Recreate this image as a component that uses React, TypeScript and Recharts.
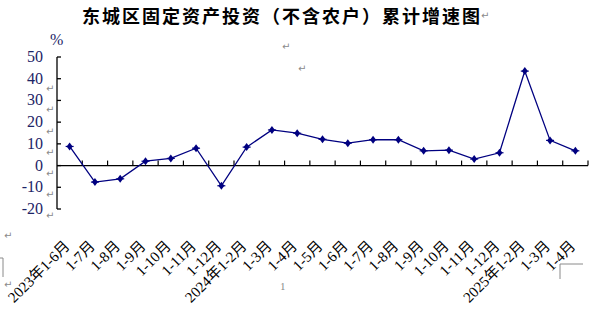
import React from "react";
import {
  LineChart,
  Line,
  XAxis,
  YAxis,
  ReferenceLine,
} from "recharts";

const categories = [
  "2023年1-6月", "1-7月", "1-8月", "1-9月", "1-10月", "1-11月", "1-12月",
  "2024年1-2月", "1-3月", "1-4月", "1-5月", "1-6月", "1-7月", "1-8月",
  "1-9月", "1-10月", "1-11月", "1-12月", "2025年1-2月", "1-3月", "1-4月",
];
const growth = [
  8.8, -7.6, -6.1, 2.0, 3.3, 8.0, -9.3, 8.5, 16.4, 14.9, 12.1, 10.3, 11.9,
  11.9, 6.8, 7.1, 3.0, 5.9, 43.5, 11.6, 6.8,
];
const yTicks = [-20, -10, 0, 10, 20, 30, 40, 50];
const title = "东城区固定资产投资（不含农户）累计增速图";

const data = categories.map((label, i) => ({ pos: i + 0.5, label, value: growth[i] }));
const centerTicks = categories.map((_, i) => i + 0.5);
const boundaries = categories.map((_, i) => i + 1);

const NAVY = "#000080";
const LABEL_BLUE = "#1c2466";
const GREY = "#8a8a8a";

const XTick = (props: any) => {
  const { x, y, payload } = props;
  const idx = Math.round(payload.value - 0.5);
  const ax = x + 1;
  const ay = y + 38;
  return (
    <text
      x={ax}
      y={ay}
      transform={`rotate(-45 ${ax} ${ay})`}
      textAnchor="end"
      fontSize={15}
      fontFamily="'Liberation Serif', 'Noto Sans CJK SC', serif"
      fill="#000"
    >
      {categories[idx]}
    </text>
  );
};

const YTick = (props: any) => {
  const { x, y, payload } = props;
  return (
    <g>
      <line x1={x} x2={x + 4} y1={y} y2={y} stroke="#000" strokeWidth={1.3} />
      <text
        x={x - 14}
        y={y + 5}
        textAnchor="end"
        fontSize={16}
        fontFamily="'Liberation Serif', serif"
        fill={LABEL_BLUE}
      >
        {payload.value}
      </text>
    </g>
  );
};

const Marker = (props: any) => {
  const { cx, cy } = props;
  if (cx == null || cy == null) return null;
  return (
    <g>
      <path
        d={`M${cx},${cy - 4} L${cx + 3},${cy} L${cx},${cy + 4} L${cx - 3},${cy} Z`}
        fill={NAVY}
      />
      <line x1={cx - 4} x2={cx + 4} y1={cy} y2={cy} stroke={NAVY} strokeWidth={1.2} />
    </g>
  );
};

// little Word formatting marks from the source screenshot
const marks = [
  [481, 19], [282, 50], [298, 72], [46, 92], [46, 113], [46, 135],
  [46, 156], [46, 177], [46, 198], [46, 219], [4, 239], [4, 288],
];

export default function App() {
  return (
    <div style={{ position: "absolute", left: 0, top: 0, width: 592, height: 311, background: "#fff" }}>
      <LineChart
        width={592}
        height={311}
        data={data}
        margin={{ top: 57, right: 4, bottom: 22, left: 0 }}
      >
        <XAxis
          dataKey="pos"
          type="number"
          domain={[0, categories.length]}
          ticks={centerTicks}
          interval={0}
          axisLine={false}
          tickLine={false}
          tickSize={0}
          tickMargin={0}
          height={80}
          tick={<XTick />}
        />
        <YAxis
          type="number"
          domain={[-20, 50]}
          ticks={yTicks}
          interval={0}
          width={57}
          axisLine={{ stroke: "#000", strokeWidth: 1.3 }}
          tickLine={false}
          tickSize={0}
          tickMargin={0}
          tick={<YTick />}
        />
        <ReferenceLine y={0} stroke="#000" strokeWidth={1.3} />
        {boundaries.map((b) => (
          <ReferenceLine
            key={b}
            segment={[{ x: b, y: 0 }, { x: b, y: 2.3 }]}
            stroke="#000"
            strokeWidth={1.2}
          />
        ))}
        <Line
          dataKey="value"
          stroke={NAVY}
          strokeWidth={1.3}
          dot={<Marker />}
          activeDot={false}
          isAnimationActive={false}
        />
      </LineChart>
      <svg
        width={592}
        height={311}
        style={{ position: "absolute", left: 0, top: 0, pointerEvents: "none" }}
      >
        <text
          x={282}
          y={23}
          textAnchor="middle"
          fontSize={18}
          fontWeight="bold"
          letterSpacing={2}
          fontFamily="'Noto Sans CJK SC', sans-serif"
          fill="#000"
        >
          {title}
        </text>
        <text x={50} y={45} fontSize={16} fontFamily="'Liberation Serif', serif" fill={LABEL_BLUE}>
          %
        </text>
        {marks.map(([mx, my], i) => (
          <text key={i} x={mx} y={my} fontSize={10} fontFamily="'DejaVu Sans', sans-serif" fill={GREY}>
            ↵
          </text>
        ))}
        <text x={280} y={290} fontSize={11} fontFamily="'Liberation Serif', serif" fill={GREY}>
          1
        </text>
        <polyline points="0,258 3,258 3,277" fill="none" stroke={GREY} strokeWidth={1} />
        <polyline points="583,264 560,264 560,279" fill="none" stroke={GREY} strokeWidth={1} />
      </svg>
    </div>
  );
}
